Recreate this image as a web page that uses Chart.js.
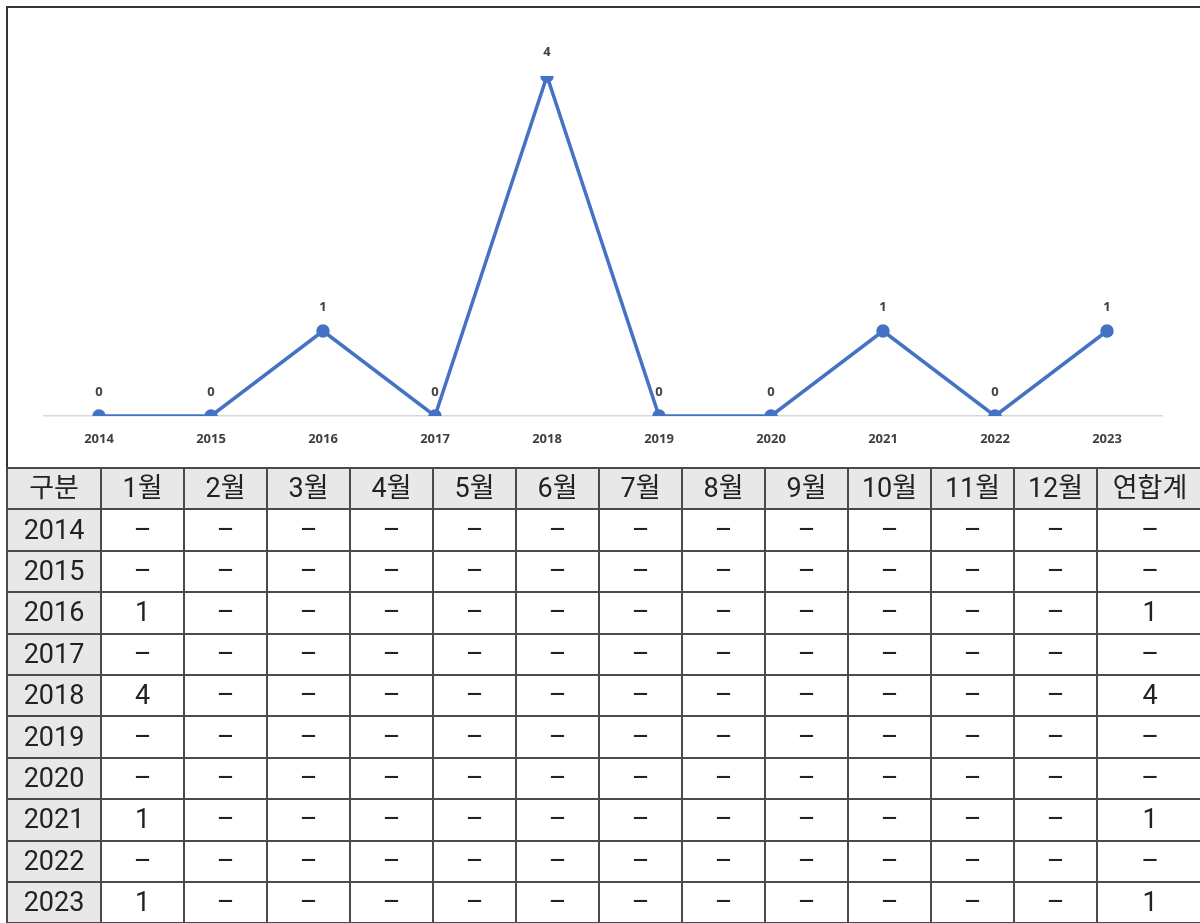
<!DOCTYPE html>
<html lang="ko">
<head>
<meta charset="utf-8">
<title>연도별 발생 건수</title>
<script src="https://cdn.jsdelivr.net/npm/chart.js@4.4.1/dist/chart.umd.min.js"></script>
<style>
    html, body { margin: 0; padding: 0; background: #fff; }
    body { width: 1200px; height: 923px; position: relative; overflow: hidden; }
    .frame {
        position: absolute; left: 6px; top: 6px; right: 0; bottom: 0;
        border-top: 2px solid #333; border-left: 2px solid #333;
    }
    .chart-box { position: absolute; left: 8px; top: 8px; width: 1192px; height: 460px; }
    table.stats {
        position: absolute; left: 6px; top: 467px; width: 1196px;
        border-collapse: collapse; table-layout: fixed;
        font-family: Roboto, "Noto Sans CJK KR", sans-serif; font-size: 27px; color: #222;
    }
    table.stats td {
        border: 2px solid #4a4a4a; height: 39.4px; padding: 0;
        text-align: center; vertical-align: middle; line-height: 1;
    }
    table.stats tr.head td, table.stats td.year { background: #e8e8e8; }
</style>
</head>
<body>
<div class="frame"></div>
<div class="chart-box"><canvas id="yearChart"></canvas></div>
<table class="stats" id="statsTable"></table>

<script>
// 연도별 건수 (그래프 + 표)
const years = ['2014', '2015', '2016', '2017', '2018', '2019', '2020', '2021', '2022', '2023'];
const yearTotals = [0, 0, 1, 0, 4, 0, 0, 1, 0, 1];
const monthLabels = ['1월', '2월', '3월', '4월', '5월', '6월', '7월', '8월', '9월', '10월', '11월', '12월'];
// 월별 건수 (연도 순서대로, 0은 "–"로 표시)
const monthlyCounts = [
    [0, 0, 0, 0, 0, 0, 0, 0, 0, 0, 0, 0],
    [0, 0, 0, 0, 0, 0, 0, 0, 0, 0, 0, 0],
    [1, 0, 0, 0, 0, 0, 0, 0, 0, 0, 0, 0],
    [0, 0, 0, 0, 0, 0, 0, 0, 0, 0, 0, 0],
    [4, 0, 0, 0, 0, 0, 0, 0, 0, 0, 0, 0],
    [0, 0, 0, 0, 0, 0, 0, 0, 0, 0, 0, 0],
    [0, 0, 0, 0, 0, 0, 0, 0, 0, 0, 0, 0],
    [1, 0, 0, 0, 0, 0, 0, 0, 0, 0, 0, 0],
    [0, 0, 0, 0, 0, 0, 0, 0, 0, 0, 0, 0],
    [1, 0, 0, 0, 0, 0, 0, 0, 0, 0, 0, 0]
];
const headFirst = '구분';
const headTotal = '연합계';
const DASH = '–';

// 점 위에 값 표시
const pointValueLabels = {
    id: 'pointValueLabels',
    afterDatasetsDraw(chart) {
        const ctx = chart.ctx;
        const meta = chart.getDatasetMeta(0);
        ctx.save();
        ctx.font = 'bold 13px "Noto Sans", sans-serif';
        ctx.fillStyle = '#404040';
        ctx.textAlign = 'center';
        ctx.textBaseline = 'bottom';
        meta.data.forEach((pt, i) => {
            ctx.fillText(String(chart.data.datasets[0].data[i]), pt.x, pt.y - 17);
        });
        ctx.restore();
    }
};

new Chart(document.getElementById('yearChart'), {
    type: 'line',
    data: {
        labels: years,
        datasets: [{
            data: yearTotals,
            borderColor: '#4472c4',
            backgroundColor: '#4472c4',
            borderWidth: 3.5,
            pointRadius: 5,
            pointHoverRadius: 5,
            tension: 0
        }]
    },
    options: {
        responsive: true,
        maintainAspectRatio: false,
        animation: false,
        layout: { padding: { left: 35, right: 37, top: 68, bottom: 0 } },
        plugins: { legend: { display: false }, tooltip: { enabled: false } },
        scales: {
            x: {
                offset: true,
                grid: { display: false },
                border: { display: false },
                ticks: {
                    padding: 7,
                    color: '#404040',
                    font: { family: '"Noto Sans", sans-serif', size: 13, weight: 'bold' }
                },
                afterFit(axis) { axis.height = 52; }
            },
            y: {
                display: true,
                min: 0,
                max: 4,
                border: { display: false },
                ticks: { display: false, stepSize: 1 },
                grid: {
                    drawTicks: false,
                    color: (c) => (c.tick && c.tick.value === 0 ? '#d9d9d9' : 'rgba(0,0,0,0)'),
                    lineWidth: 1.5
                },
                afterFit(axis) { axis.width = 0; }
            }
        }
    },
    plugins: [pointValueLabels]
});

// 표 만들기
const table = document.getElementById('statsTable');
const colgroup = document.createElement('colgroup');
[94].concat(monthLabels.map(() => 83)).concat([106]).forEach(w => {
    const col = document.createElement('col');
    col.style.width = w + 'px';
    colgroup.appendChild(col);
});
table.appendChild(colgroup);

const head = document.createElement('tr');
head.className = 'head';
[headFirst].concat(monthLabels, [headTotal]).forEach(t => {
    const td = document.createElement('td');
    td.textContent = t;
    head.appendChild(td);
});
table.appendChild(head);

years.forEach((y, i) => {
    const tr = document.createElement('tr');
    const yc = document.createElement('td');
    yc.className = 'year';
    yc.textContent = y;
    tr.appendChild(yc);
    monthlyCounts[i].concat([yearTotals[i]]).forEach(v => {
        const td = document.createElement('td');
        td.textContent = v ? String(v) : DASH;
        tr.appendChild(td);
    });
    table.appendChild(tr);
});
</script>
</body>
</html>
